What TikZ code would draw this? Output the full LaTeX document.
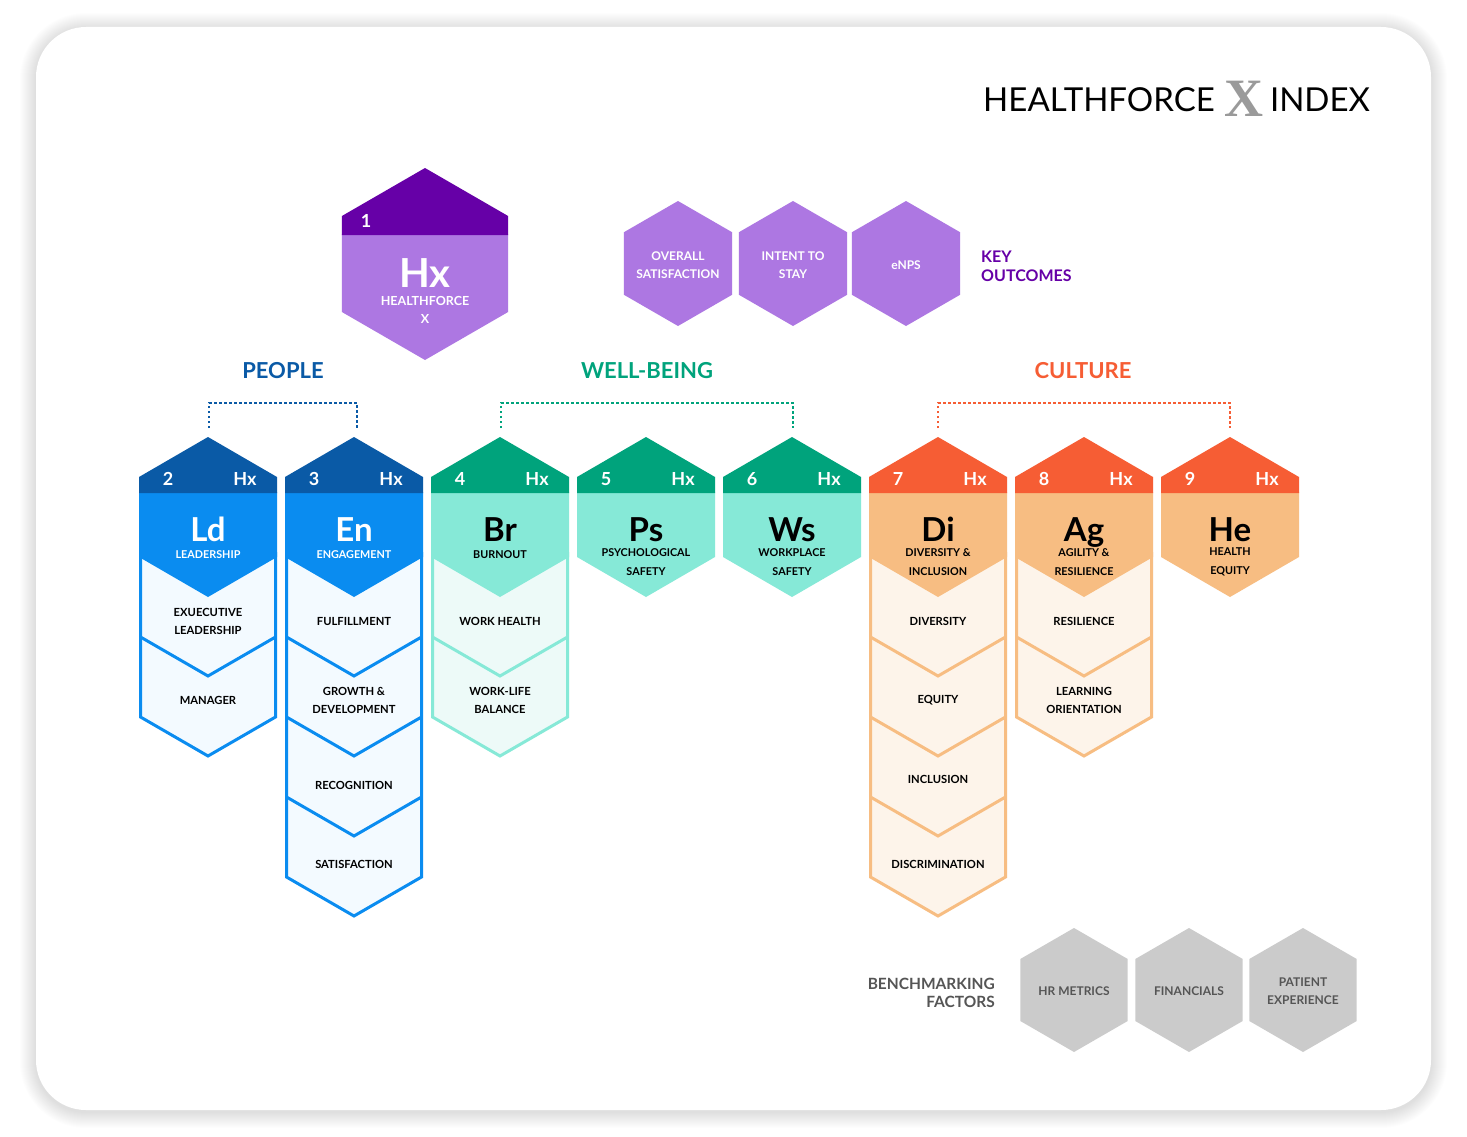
\documentclass[tikz,border=0pt]{standalone}
\usepackage{fontspec}
\setmainfont{Lato}
\newfontfamily\serifx{Liberation Serif}
\definecolor{pplDark}{HTML}{0A5AA6}
\definecolor{pplMed}{HTML}{0A8CF0}
\definecolor{pplLight}{HTML}{F3FAFF}
\definecolor{wbDark}{HTML}{00A37C}
\definecolor{wbMed}{HTML}{86E9D7}
\definecolor{wbLight}{HTML}{EDFAF8}
\definecolor{clDark}{HTML}{F65D34}
\definecolor{clMed}{HTML}{F7BD82}
\definecolor{clLight}{HTML}{FDF4EA}
\definecolor{purDark}{HTML}{6600A7}
\definecolor{purMed}{HTML}{AD77E2}
\definecolor{grayHex}{HTML}{CBCBCB}
\definecolor{grayTxt}{HTML}{555555}
\definecolor{titleX}{HTML}{9A9A9A}
\newcommand\fsz[2]{\fontsize{#1}{#2}\selectfont}
% head hexagon: cx, dark, med
\newcommand\headhex[3]{%
  \fill[#3] (#1-69,492) -- (#1-69,557) -- (#1,597) -- (#1+69,557) -- (#1+69,492) -- cycle;
  \fill[#2] (#1-69,493) -- (#1-69,477) -- (#1,437) -- (#1+69,477) -- (#1+69,493) -- cycle;
}
% chevron body: cx, n, border, light
\newcommand\chevbody[4]{%
  \filldraw[fill=#4, draw=#3, line width=3pt, line join=miter]
    (#1-67.5,552) -- (#1-67.5,{557+80*#2}) -- (#1,{596+80*#2}) -- (#1+67.5,{557+80*#2}) -- (#1+67.5,552);
  \foreach \k in {1,...,\numexpr#2-1\relax}{%
    \draw[draw=#3, line width=3pt, line join=miter]
      (#1-67.5,{557+80*\k}) -- (#1,{596+80*\k}) -- (#1+67.5,{557+80*\k});
  }%
}
% regular pointy-top hexagon: cx, cy, R, colour
\newcommand\plainhex[4]{%
  \fill[#4] (#1,#2-#3) -- (#1+0.866*#3,#2-0.5*#3) -- (#1+0.866*#3,#2+0.5*#3)
    -- (#1,#2+#3) -- (#1-0.866*#3,#2+0.5*#3) -- (#1-0.866*#3,#2-0.5*#3) -- cycle;
}
\begin{document}
\begin{tikzpicture}[x=1pt,y=-1pt,
  txt/.style={inner sep=0pt, align=center},
  numtxt/.style={txt, font=\fsz{18}{18}\bfseries},
  abbr/.style={inner sep=0pt, anchor=base, font=\fsz{33}{33}\bfseries},
  subtxt/.style={txt, font=\fsz{10.8}{19}\bfseries},
  itemtxt/.style={txt, font=\fsz{11.2}{18}\bfseries, text=black},
  hextxt/.style={txt, font=\fsz{12}{18}\bfseries},
  bracket/.style={line width=2pt, dash pattern=on 2.5pt off 2.5pt},
  cattxt/.style={txt, font=\fsz{22}{22}\bfseries}]
\useasboundingbox (0,0) rectangle (1467,1137);
% card shadow and card
\foreach \i in {1,...,16}{%
  \fill[black, opacity=0.008, rounded corners={(50+\i)*1pt}] (36-\i,27-\i+2) rectangle (1431+\i,1110+\i+2);
}
\fill[white, rounded corners=50pt] (36,27) rectangle (1431,1110);

% title
\node[txt, font=\fsz{33}{33}] (tleft) at (1099,100) {HEALTHFORCE};
\node[txt, font=\fsz{54}{54}\serifx\bfseries, text=titleX] (tx) at (1244,99) {X};
\node[txt, font=\fsz{33}{33}] (tright) at (1320,100) {INDEX};

% main Hx hexagon
\fill[purMed] (341.9,234) -- (341.9,312) -- (425,360) -- (508.1,312) -- (508.1,234) -- cycle;
\fill[purDark] (341.9,235) -- (341.9,216) -- (425,168) -- (508.1,216) -- (508.1,235) -- cycle;
\node[numtxt, text=white] (hxnum) at (366,221) {1};
\node[inner sep=0pt, anchor=base, font=\fsz{40}{40}\bfseries, text=white] (hxabbr) at (425,287) {Hx};
\node[txt, font=\fsz{12.5}{18}\bfseries, text=white] (hxsub) at (425,310) {HEALTHFORCE\\X};

% key outcomes
\plainhex{678}{263.5}{62.5}{purMed}
\plainhex{793}{263.5}{62.5}{purMed}
\plainhex{906}{263.5}{62.5}{purMed}
\node[hextxt, text=white] (ko1) at (678,265) {OVERALL\\SATISFACTION};
\node[hextxt, text=white] (ko2) at (793,265) {INTENT TO\\STAY};
\node[hextxt, text=white] (ko3) at (906,265) {eNPS};
\node[inner sep=0pt, align=left, anchor=west, font=\fsz{16}{19}\bfseries, text=purDark] (kolab) at (981,266.5) {KEY\\OUTCOMES};

% categories
\node[cattxt, text=pplDark] (people) at (283,371) {PEOPLE};
\node[cattxt, text=wbDark] (wellb) at (647,371) {WELL-BEING};
\node[cattxt, text=clDark] (culture) at (1083,371) {CULTURE};

\coordinate (ldtop) at (209,428);
\coordinate (entop) at (357,428);
\coordinate (brtop) at (501,428);
\coordinate (wstop) at (793,428);
\coordinate (ditop) at (938,428);
\coordinate (hetop) at (1230,428);
\draw[bracket, pplDark] (ldtop) -- ++(0,-25) -| (entop);
\draw[bracket, wbDark] (brtop) -- ++(0,-25) -| (wstop);
\draw[bracket, clDark] (ditop) -- ++(0,-25) -| (hetop);

% bodies
\chevbody{208}{2}{pplMed}{pplLight}
\chevbody{354}{4}{pplMed}{pplLight}
\chevbody{500}{2}{wbMed}{wbLight}
\chevbody{938}{4}{clMed}{clLight}
\chevbody{1084}{2}{clMed}{clLight}

% heads
\headhex{208}{pplDark}{pplMed}
\headhex{354}{pplDark}{pplMed}
\headhex{500}{wbDark}{wbMed}
\headhex{646}{wbDark}{wbMed}
\headhex{792}{wbDark}{wbMed}
\headhex{938}{clDark}{clMed}
\headhex{1084}{clDark}{clMed}
\headhex{1230}{clDark}{clMed}

% head texts
\foreach \cx/\n/\nm in {208/2/a,354/3/b,500/4/c,646/5/d,792/6/e,938/7/f,1084/8/g,1230/9/h}{%
  \node[numtxt, text=white] (num\nm) at (\cx-40,479) {\n};
  \node[numtxt, text=white] (hx\nm) at (\cx+37,479) {Hx};
}
\node[abbr, text=white] (ld) at (208,541) {Ld};
\node[subtxt, text=white] (ldsub) at (208,555) {LEADERSHIP};
\node[abbr, text=white] (en) at (354,541) {En};
\node[subtxt, text=white] (ensub) at (354,555) {ENGAGEMENT};
\node[abbr, text=black] (br) at (500,541) {Br};
\node[subtxt, text=black] (brsub) at (500,555) {BURNOUT};
\node[abbr, text=black] (ps) at (646,541) {Ps};
\node[subtxt, text=black] (pssub) at (646,562) {PSYCHOLOGICAL\\SAFETY};
\node[abbr, text=black] (ws) at (792,541) {Ws};
\node[subtxt, text=black] (wssub) at (792,562) {WORKPLACE\\SAFETY};
\node[abbr, text=black] (di) at (938,541) {Di};
\node[subtxt, text=black] (disub) at (938,562) {DIVERSITY \&\\INCLUSION};
\node[abbr, text=black] (ag) at (1084,541) {Ag};
\node[subtxt, text=black] (agsub) at (1084,562) {AGILITY \&\\RESILIENCE};
\node[abbr, text=black] (he) at (1230,541) {He};
\node[subtxt, text=black] (hesub) at (1230,562) {HEALTH\\EQUITY};

% items
\node[itemtxt] (i1) at (208,621) {EXUECUTIVE\\LEADERSHIP};
\node[itemtxt] (i2) at (208,700) {MANAGER};
\node[itemtxt] (i3) at (354,621) {FULFILLMENT};
\node[itemtxt] (i4) at (354,700) {GROWTH \&\\DEVELOPMENT};
\node[itemtxt] (i5) at (354,785) {RECOGNITION};
\node[itemtxt] (i6) at (354,864) {SATISFACTION};
\node[itemtxt] (i7) at (500,621) {WORK HEALTH};
\node[itemtxt] (i8) at (500,700) {WORK-LIFE\\BALANCE};
\node[itemtxt] (i9) at (938,621) {DIVERSITY};
\node[itemtxt] (i10) at (938,700) {EQUITY};
\node[itemtxt] (i11) at (938,779) {INCLUSION};
\node[itemtxt] (i12) at (938,864) {DISCRIMINATION};
\node[itemtxt] (i13) at (1084,621) {RESILIENCE};
\node[itemtxt] (i14) at (1084,700) {LEARNING\\ORIENTATION};

% benchmarking
\plainhex{1074}{990}{62}{grayHex}
\plainhex{1189}{990}{62}{grayHex}
\plainhex{1303}{990}{62}{grayHex}
\node[hextxt, text=grayTxt] (b1) at (1074,991) {HR METRICS};
\node[hextxt, text=grayTxt] (b2) at (1189,991) {FINANCIALS};
\node[hextxt, text=grayTxt] (b3) at (1303,991) {PATIENT\\EXPERIENCE};
\node[inner sep=0pt, align=right, anchor=east, font=\fsz{15.5}{18}\bfseries, text=grayTxt] (bench) at (995,993) {BENCHMARKING\\FACTORS};
\end{tikzpicture}
\end{document}
